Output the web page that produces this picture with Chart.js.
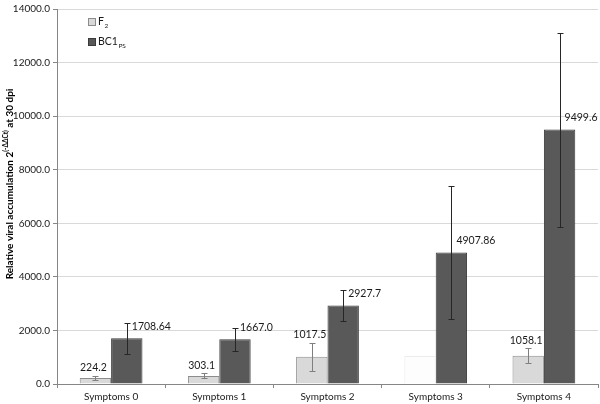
<!DOCTYPE html>
<html>
<head>
<meta charset="utf-8">
<script src="https://cdn.jsdelivr.net/npm/chart.js@4"></script>
<style>
  html, body { margin: 0; padding: 0; background: #fff; }
  #wrap { width: 600px; height: 404px; position: relative; }
</style>
</head>
<body>
<div id="wrap"><canvas id="viralChart"></canvas></div>
<script>
// --- Data ---
const categories = ['Symptoms 0', 'Symptoms 1', 'Symptoms 2', 'Symptoms 3', 'Symptoms 4'];
const f2Values = [224.2, 303.1, 1017.5, 1050, 1058.1];
const f2Errors = [80, 95, 530, null, 280];
const f2Labels = ['224.2', '303.1', '1017.5', '', '1058.1'];
const bc1Values = [1708.64, 1667.0, 2927.7, 4907.86, 9499.6];
const bc1Errors = [585, 430, 590, 2490, 3620];
const bc1Labels = ['1708.64', '1667.0', '2927.7', '4907.86', '9499.6'];
const yTicks = [0, 2000, 4000, 6000, 8000, 10000, 12000, 14000];

const FONT = 'Lato, "Open Sans", sans-serif';
const F2_FILL = '#d9d9d9';
const BC1_FILL = '#595959';

// --- Plugins ---
const errorBars = {
    id: 'errorBars',
    afterDatasetsDraw(chart) {
        const ctx = chart.ctx;
        const y = chart.scales.y;
        const sets = [
            { errs: f2Errors, labels: f2Labels, color: '#7f7f7f', side: 'center' },
            { errs: bc1Errors, labels: bc1Labels, color: '#262626', side: 'right' }
        ];
        sets.forEach((s, di) => {
            const meta = chart.getDatasetMeta(di);
            const vals = chart.data.datasets[di].data;
            meta.data.forEach((bar, i) => {
                const e = s.errs[i];
                let topY = bar.y;
                if (e) {
                    const yTop = y.getPixelForValue(vals[i] + e);
                    const yBot = y.getPixelForValue(vals[i] - e);
                    topY = yTop;
                    ctx.save();
                    ctx.strokeStyle = s.color;
                    ctx.lineWidth = 1;
                    ctx.beginPath();
                    const x = Math.round(bar.x) + 0.5;
                    ctx.moveTo(x, Math.round(yTop) + 0.5);
                    ctx.lineTo(x, Math.round(yBot) + 0.5);
                    ctx.moveTo(x - 3, Math.round(yTop) + 0.5);
                    ctx.lineTo(x + 3, Math.round(yTop) + 0.5);
                    ctx.moveTo(x - 3, Math.round(yBot) + 0.5);
                    ctx.lineTo(x + 3, Math.round(yBot) + 0.5);
                    ctx.stroke();
                    ctx.restore();
                }
                const txt = s.labels[i];
                if (!txt) return;
                ctx.save();
                ctx.font = '10.5px ' + FONT;
                ctx.fillStyle = '#1a1a1a';
                ctx.textBaseline = 'middle';
                if (s.side === 'center') {
                    ctx.textAlign = 'center';
                    ctx.fillText(txt, bar.x - 2, topY - 8);
                } else {
                    ctx.textAlign = 'left';
                    ctx.fillText(txt, bar.x + 5, bar.y - 12);
                }
                ctx.restore();
            });
        });
    }
};

const customLegend = {
    id: 'customLegend',
    afterDraw(chart) {
        const ctx = chart.ctx;
        const items = [
            { fill: F2_FILL, stroke: '#8c8c8c', main: 'F', sub: '2', y: 22 },
            { fill: BC1_FILL, stroke: '#3a3a3a', main: 'BC1', sub: 'PS', y: 42 }
        ];
        ctx.save();
        items.forEach(it => {
            ctx.fillStyle = it.fill;
            ctx.strokeStyle = it.stroke;
            ctx.fillRect(88.5, it.y - 3.5, 7, 7);
            ctx.strokeRect(88.5, it.y - 3.5, 7, 7);
            ctx.fillStyle = '#1a1a1a';
            ctx.textBaseline = 'middle';
            ctx.textAlign = 'left';
            ctx.font = '10.5px ' + FONT;
            ctx.fillText(it.main, 98, it.y);
            const w = ctx.measureText(it.main).width;
            ctx.font = '6.5px ' + FONT;
            ctx.fillText(it.sub, 98 + w + 0.5, it.y + 4);
        });
        ctx.restore();
    }
};

const yTitle = {
    id: 'yTitle',
    afterDraw(chart) {
        const ctx = chart.ctx;
        const parts = [
            { t: 'Relative viral accumulation 2', f: 'bold 10px ' + FONT, dy: 0 },
            { t: '(-ΔΔCt)', f: 'bold 6.5px ' + FONT, dy: -4 },
            { t: ' at 30 dpi', f: 'bold 10px ' + FONT, dy: 0 }
        ];
        ctx.save();
        let total = 0;
        parts.forEach(p => { ctx.font = p.f; p.w = ctx.measureText(p.t).width; total += p.w; });
        ctx.translate(10, 184);
        ctx.rotate(-Math.PI / 2);
        ctx.fillStyle = '#000';
        ctx.textBaseline = 'middle';
        ctx.textAlign = 'left';
        let x = -total / 2;
        parts.forEach(p => {
            ctx.font = p.f;
            ctx.fillText(p.t, x, p.dy);
            x += p.w;
        });
        ctx.restore();
    }
};

// --- Chart ---
function initChart() {
    const ctx = document.getElementById('viralChart').getContext('2d');
    new Chart(ctx, {
        type: 'bar',
        data: {
            labels: categories,
            datasets: [
                {
                    label: 'F2',
                    data: f2Values,
                    backgroundColor: f2Values.map((v, i) => f2Errors[i] === null ? '#fdfdfd' : F2_FILL),
                    borderColor: f2Values.map((v, i) => f2Errors[i] === null ? '#ececec' : '#8c8c8c'),
                    borderWidth: 1
                },
                {
                    label: 'BC1PS',
                    data: bc1Values,
                    backgroundColor: BC1_FILL,
                    borderColor: '#3a3a3a',
                    borderWidth: 1
                }
            ]
        },
        options: {
            responsive: true,
            maintainAspectRatio: false,
            animation: false,
            layout: { padding: { top: 5, right: 2, left: 0, bottom: 0 } },
            datasets: { bar: { categoryPercentage: 0.58, barPercentage: 1 } },
            scales: {
                x: {
                    grid: { drawOnChartArea: false, drawTicks: true, tickLength: 4, tickColor: '#868686' },
                    border: { color: '#868686' },
                    ticks: { color: '#1a1a1a', font: { family: FONT, size: 10 }, padding: 3, maxRotation: 0 },
                    afterFit(scale) { scale.height = 20; }
                },
                y: {
                    min: 0,
                    max: 14000,
                    afterBuildTicks(scale) { scale.ticks = yTicks.map(v => ({ value: v })); },
                    grid: { color: '#d9d9d9', tickLength: 4, tickColor: '#868686' },
                    border: { color: '#868686' },
                    ticks: {
                        color: '#1a1a1a',
                        font: { family: FONT, size: 10 },
                        padding: 3,
                        callback: v => v.toFixed(1)
                    },
                    afterFit(scale) { scale.width = 57; }
                }
            },
            plugins: {
                legend: { display: false },
                tooltip: { enabled: false }
            }
        },
        plugins: [errorBars, customLegend, yTitle]
    });
}

document.addEventListener('DOMContentLoaded', initChart);
</script>
</body>
</html>
